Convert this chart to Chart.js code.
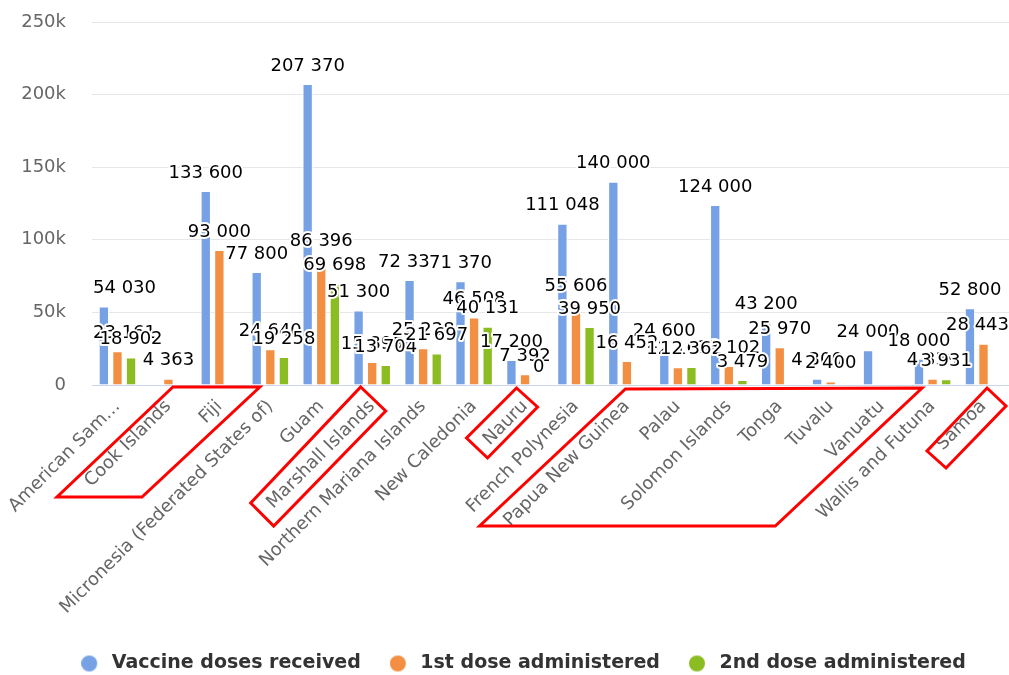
<!DOCTYPE html>
<html>
<head>
<meta charset="utf-8">
<script src="https://cdn.jsdelivr.net/npm/chart.js@4/dist/chart.umd.min.js"></script>
<style>
  html, body { margin: 0; padding: 0; background: #fff; }
  #wrap { width: 1009px; height: 675px; }
</style>
</head>
<body>
<div id="wrap"><canvas id="c" width="1009" height="675"></canvas></div>
<script>
const categories = ["American Samoa", "Cook Islands", "Fiji", "Micronesia (Federated States of)", "Guam", "Marshall Islands", "Northern Mariana Islands", "New Caledonia", "Nauru", "French Polynesia", "Papua New Guinea", "Palau", "Solomon Islands", "Tonga", "Tuvalu", "Vanuatu", "Wallis and Futuna", "Samoa"];
const seriesNames = ["Vaccine doses received", "1st dose administered", "2nd dose administered"];
const dosesReceived = [54030, null, 133600, 77800, 207370, 51300, 72337, 71370, 17200, 111048, 140000, 24600, 124000, 43200, 4300, 24000, 18000, 52800];
const firstDose = [23161, 4363, 93000, 24640, 86396, 15899, 25228, 46508, 7392, 55606, 16452, 12169, 13102, 25970, 2400, null, 4339, 28443];
const secondDose = [18902, null, null, 19258, 69698, 13704, 21697, 40131, 0, 39950, null, 12362, 3479, null, null, null, 3931, null];
const yTicks = [0, 50000, 100000, 150000, 200000, 250000];
const colors = ["#77a1e5", "#f28f43", "#8bbc21"];

// Highlight outlines: [categoryIndex, dx, dy below axis]
const highlights = [
  [[1, 4.5, 2], [3, -10.5, 2], [0, 24.5, 112], [0, -60.5, 112]],
  [[5, -11.5, 2], [5, 13.5, 26], [5, -98.5, 141], [5, -121.5, 118]],
  [[8, -8.5, 3], [8, 12.5, 22], [8, -37.5, 73], [8, -58.5, 53]],
  [[10, -1.5, 4], [16, -10.5, 3], [13, -4.5, 141], [7, 5.5, 141]],
  [[17, 3.5, 3], [17, 22.5, 21], [17, -37.5, 83], [17, -56.5, 66]]
];

const FONT = '"DejaVu Sans", "Noto Sans", sans-serif';

function fmt(v) {
  return String(v).replace(/\B(?=(\d{3})+(?!\d))/g, ' ');
}

function legendDot(color) {
  const c = document.createElement('canvas');
  c.width = 21; c.height = 18;
  const g = c.getContext('2d');
  g.fillStyle = color;
  g.beginPath();
  g.arc(8, 9, 8, 0, Math.PI * 2);
  g.fill();
  return c;
}

const dataLabels = {
  id: 'dataLabels',
  afterDatasetsDraw(chart) {
    const ctx = chart.ctx, area = chart.chartArea;
    ctx.save();
    ctx.font = '18px ' + FONT;
    ctx.textAlign = 'left';
    ctx.textBaseline = 'middle';
    ctx.lineJoin = 'round';
    chart.data.datasets.forEach((ds, di) => {
      const meta = chart.getDatasetMeta(di);
      meta.data.forEach((bar, i) => {
        const v = ds.data[i];
        if (v === null || v === undefined) return;
        const t = fmt(v);
        const w = ctx.measureText(t).width;
        let x = bar.x - w / 2;
        if (x < area.left + 1) x = area.left + 1;
        if (x + w > area.right) x = area.right - w;
        const y = bar.y - 18;
        ctx.strokeStyle = '#ffffff';
        ctx.lineWidth = 4;
        ctx.strokeText(t, x, y);
        ctx.fillStyle = '#000000';
        ctx.fillText(t, x, y);
      });
    });
    ctx.restore();
  }
};

const outlines = {
  id: 'outlines',
  afterLayout(chart) {
    if (chart.legend) { chart.legend.left += 38; }
  },
  afterDraw(chart) {
    const ctx = chart.ctx, xs = chart.scales.x;
    const base = chart.chartArea.bottom;
    ctx.save();
    ctx.strokeStyle = '#ff0000';
    ctx.lineWidth = 3;
    ctx.lineJoin = 'miter';
    highlights.forEach(poly => {
      ctx.beginPath();
      poly.forEach((p, k) => {
        const px = xs.getPixelForValue(p[0]) + p[1];
        const py = base + p[2];
        if (k === 0) ctx.moveTo(px, py); else ctx.lineTo(px, py);
      });
      ctx.closePath();
      ctx.stroke();
    });
    ctx.restore();
  }
};

const seriesData = [dosesReceived, firstDose, secondDose];

new Chart(document.getElementById('c'), {
  type: 'bar',
  data: {
    labels: categories,
    datasets: seriesData.map((d, i) => ({
      label: seriesNames[i],
      data: d,
      backgroundColor: colors[i],
      borderColor: '#ffffff',
      borderWidth: 1,
      pointStyle: legendDot(colors[i]),
      categoryPercentage: 0.8,
      barPercentage: 0.76
    }))
  },
  options: {
    responsive: false,
    animation: false,
    layout: { padding: { top: 22, left: 0, right: 0, bottom: -8 } },
    plugins: {
      tooltip: { enabled: false },
      legend: {
        position: 'bottom',
        labels: {
          usePointStyle: true,
          boxWidth: 21,
          boxHeight: 18,
          pointStyleWidth: 21,
          padding: 29,
          color: '#333333',
          font: { family: FONT, size: 19, weight: 'bold' }
        }
      }
    },
    scales: {
      x: {
        grid: { display: false, drawTicks: false },
        border: { display: true, color: '#ccd6eb', width: 1 },
        ticks: {
          autoSkip: false,
          maxRotation: 45,
          minRotation: 45,
          padding: 11,
          color: '#666666',
          font: { family: FONT, size: 18 },
          callback: (v, i) => i === 0 ? 'American Sam…' : categories[i]
        },
        afterFit: s => { s.height = 240; s.paddingLeft = 0; s.paddingRight = 0; }
      },
      y: {
        min: 0,
        max: 250000,
        afterBuildTicks: s => { s.ticks = yTicks.map(v => ({ value: v })); },
        grid: { color: '#e6e6e6', drawTicks: false },
        border: { display: false },
        ticks: {
          padding: 26,
          color: '#666666',
          font: { family: FONT, size: 18 },
          callback: v => v === 0 ? '0' : (v / 1000) + 'k'
        },
        afterFit: s => { s.width = 92; s.paddingTop = 0; s.paddingBottom = 0; }
      }
    }
  },
  plugins: [dataLabels, outlines]
});
</script>
</body>
</html>
